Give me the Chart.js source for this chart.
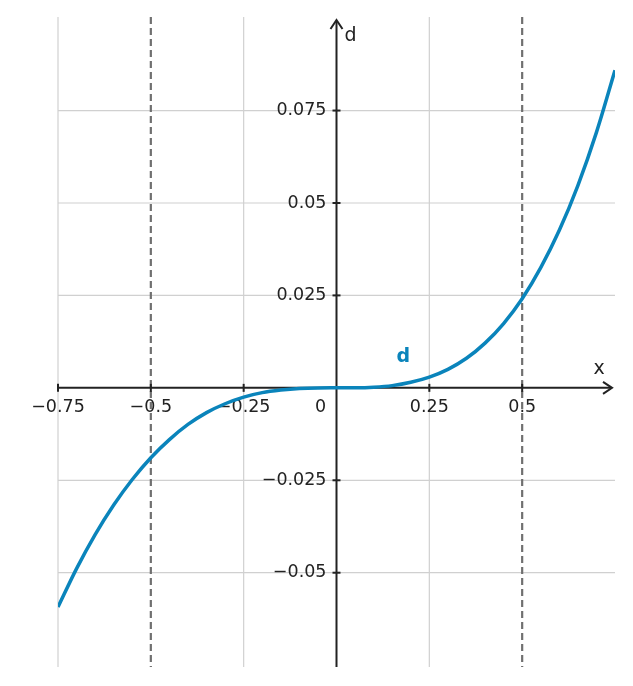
<!DOCTYPE html>
<html>
<head>
<meta charset="utf-8">
<script src="https://cdn.jsdelivr.net/npm/chart.js@4"></script>
<style>
  body { margin: 0; background: #fff; }
  #wrap { width: 633px; height: 686px; }
</style>
</head>
<body>
<div id="wrap"><canvas id="chart"></canvas></div>
<script>
// values
const xValues = [-0.75, -0.7, -0.65, -0.6, -0.55, -0.5, -0.45, -0.4, -0.35, -0.3, -0.25, -0.2, -0.15, -0.1, -0.05,
    0, 0.05, 0.1, 0.15, 0.2, 0.25, 0.3, 0.35, 0.4, 0.45, 0.5, 0.55, 0.6, 0.65, 0.7, 0.75];
const dValues = [-0.0593, -0.0489, -0.0397, -0.0317, -0.0248, -0.0189, -0.0140, -0.0099, -0.0067, -0.0043, -0.0025, -0.0013, -0.0006, -0.00017, -0.00002,
    0, 0.00002, 0.00018, 0.0006, 0.0015, 0.0029, 0.0050, 0.0080, 0.0121, 0.0174, 0.0241, 0.0325, 0.0426, 0.0547, 0.0691, 0.0859];
const xTicks = [-0.75, -0.5, -0.25, 0, 0.25, 0.5];
const xTickLabels = ['−0.75', '−0.5', '−0.25', '0', '0.25', '0.5'];
const yTicks = [-0.05, -0.025, 0.025, 0.05, 0.075];
const yTickLabels = ['−0.05', '−0.025', '0.025', '0.05', '0.075'];
const dashedAt = [-0.5, 0.5];

const font = '17.5px "DejaVu Sans"';
const ink = '#222';

const axesPlugin = {
    id: 'axesPlugin',
    beforeDatasetsDraw(chart) {
        const ctx = chart.ctx;
        const a = chart.chartArea;
        const xs = chart.scales.x, ys = chart.scales.y;
        ctx.save();
        // grid
        ctx.strokeStyle = '#d0d0d0';
        ctx.lineWidth = 1.2;
        for (const v of [-0.75, -0.25, 0.25]) {
            const px = xs.getPixelForValue(v);
            ctx.beginPath(); ctx.moveTo(px, a.top); ctx.lineTo(px, a.bottom); ctx.stroke();
        }
        for (const v of yTicks) {
            const py = ys.getPixelForValue(v);
            ctx.beginPath(); ctx.moveTo(a.left, py); ctx.lineTo(a.right, py); ctx.stroke();
        }
        // dashed lines
        ctx.strokeStyle = '#707070';
        ctx.lineWidth = 2.2;
        ctx.setLineDash([7, 4]);
        for (const v of dashedAt) {
            const px = xs.getPixelForValue(v);
            ctx.beginPath(); ctx.moveTo(px, a.top); ctx.lineTo(px, a.bottom); ctx.stroke();
        }
        ctx.setLineDash([]);
        // axes
        const x0 = xs.getPixelForValue(0), y0 = ys.getPixelForValue(0);
        ctx.strokeStyle = ink;
        ctx.lineWidth = 2;
        ctx.beginPath(); ctx.moveTo(a.left, y0); ctx.lineTo(a.right - 4, y0); ctx.stroke();
        ctx.beginPath(); ctx.moveTo(x0, a.bottom); ctx.lineTo(x0, a.top + 4); ctx.stroke();
        ctx.beginPath(); ctx.moveTo(a.right - 12, y0 - 6); ctx.lineTo(a.right - 3, y0); ctx.lineTo(a.right - 12, y0 + 6); ctx.stroke();
        ctx.beginPath(); ctx.moveTo(x0 - 6, a.top + 12); ctx.lineTo(x0, a.top + 3); ctx.lineTo(x0 + 6, a.top + 12); ctx.stroke();
        // ticks and labels
        ctx.font = font;
        ctx.fillStyle = ink;
        ctx.textBaseline = 'top';
        ctx.textAlign = 'center';
        xTicks.forEach((v, i) => {
            const px = xs.getPixelForValue(v);
            if (v !== 0) {
                ctx.beginPath(); ctx.moveTo(px, y0 - 4); ctx.lineTo(px, y0 + 4); ctx.stroke();
                ctx.fillText(xTickLabels[i], px, y0 + 11);
            } else {
                ctx.fillText(xTickLabels[i], x0 - 16, y0 + 11);
            }
        });
        ctx.textAlign = 'right';
        ctx.textBaseline = 'middle';
        yTicks.forEach((v, i) => {
            const py = ys.getPixelForValue(v);
            ctx.beginPath(); ctx.moveTo(x0 - 4, py); ctx.lineTo(x0 + 4, py); ctx.stroke();
            ctx.fillText(yTickLabels[i], x0 - 10, py);
        });
        ctx.font = '19px "DejaVu Sans"';
        ctx.textAlign = 'left';
        ctx.fillText('d', x0 + 8, a.top + 19);
        ctx.textAlign = 'center';
        ctx.fillText('x', a.right - 16, y0 - 19);
        ctx.font = 'bold 19px "DejaVu Sans"';
        ctx.fillStyle = '#0a84bb';
        ctx.fillText('d', xs.getPixelForValue(0.18), ys.getPixelForValue(0.0082));
        ctx.restore();
    }
};

new Chart(document.getElementById('chart'), {
    type: 'line',
    data: {
        datasets: [{
            data: xValues.map((x, i) => ({ x: x, y: dValues[i] })),
            borderColor: '#0a84bb',
            borderWidth: 3.5,
            pointRadius: 0,
            cubicInterpolationMode: 'monotone',
            fill: false
        }]
    },
    options: {
        responsive: true,
        maintainAspectRatio: false,
        animation: false,
        layout: { padding: { left: 58, right: 18, top: 17, bottom: 19 } },
        scales: {
            x: { type: 'linear', min: -0.75, max: 0.75, display: false },
            y: { type: 'linear', min: -0.0755, max: 0.1003, display: false }
        },
        plugins: { legend: { display: false }, tooltip: { enabled: false } }
    },
    plugins: [axesPlugin]
});
</script>
</body>
</html>
